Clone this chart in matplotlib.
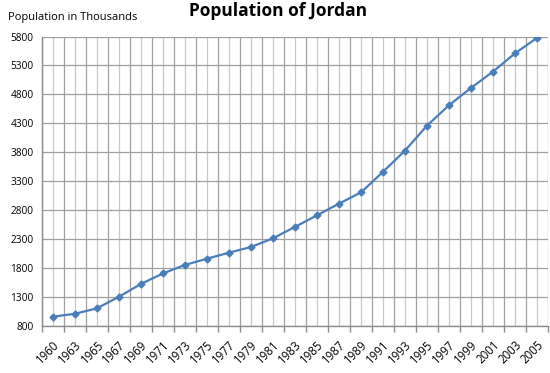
import numpy as np
import matplotlib
matplotlib.use("Agg")
import matplotlib.pyplot as plt

years = ["1960", "1963", "1965", "1967", "1969", "1971", "1973", "1975",
         "1977", "1979", "1981", "1983", "1985", "1987", "1989", "1991",
         "1993", "1995", "1997", "1999", "2001", "2003", "2005"]
population = [955, 1005, 1100, 1300, 1522, 1703, 1850, 1958, 2062, 2160,
              2310, 2508, 2708, 2910, 3105, 3460, 3828, 4260, 4612, 4912,
              5194, 5510, 5777]

plt.rcParams['font.family'] = ['Open Sans', 'DejaVu Sans']

fig = plt.figure(figsize=(5.5, 3.73), dpi=100)
ax = fig.add_axes([0.0764, 0.127, 0.92, 0.775])

x = np.arange(len(years))
ax.plot(x, population, color='#4a7ebb', lw=1.6, marker='D', markersize=3.5,
        markerfacecolor='#4a7ebb', markeredgecolor='#4a7ebb', zorder=3)

ax.set_xlim(-0.5, len(years) - 0.5)
ax.set_ylim(800, 5800)
ax.set_yticks(np.arange(800, 5801, 500))
ax.tick_params(axis='y', length=0, labelsize=7.3, pad=6)

# category boundaries carry the major ticks, centres get minor gridlines
ax.set_xticks(np.arange(-0.5, len(years)), minor=False)
ax.set_xticklabels([])
ax.set_xticks(x, minor=True)
ax.set_xticklabels(years, minor=True, rotation=45, ha='right', va='top',
                   rotation_mode='anchor', fontsize=8.3)
ax.tick_params(axis='x', which='major', length=4, color='#8c8c8c', width=1)
ax.tick_params(axis='x', which='minor', length=0, pad=9)

ax.grid(True, which='major', axis='both', color='#a0a0a0', lw=0.9)
ax.grid(True, which='minor', axis='x', color='#c8c8c8', lw=0.9)
ax.set_axisbelow(True)

for side in ['top', 'right']:
    ax.spines[side].set_visible(False)
for side in ['left', 'bottom']:
    ax.spines[side].set_color('#8c8c8c')
    ax.spines[side].set_linewidth(1)

fig.text(0.505, 0.97, "Population of Jordan", ha='center', va='center',
         fontsize=12.5, fontweight='bold')
fig.text(0.014, 0.953, "Population in Thousands", ha='left', va='center',
         fontsize=8)

fig.savefig("out.png", dpi=100)
